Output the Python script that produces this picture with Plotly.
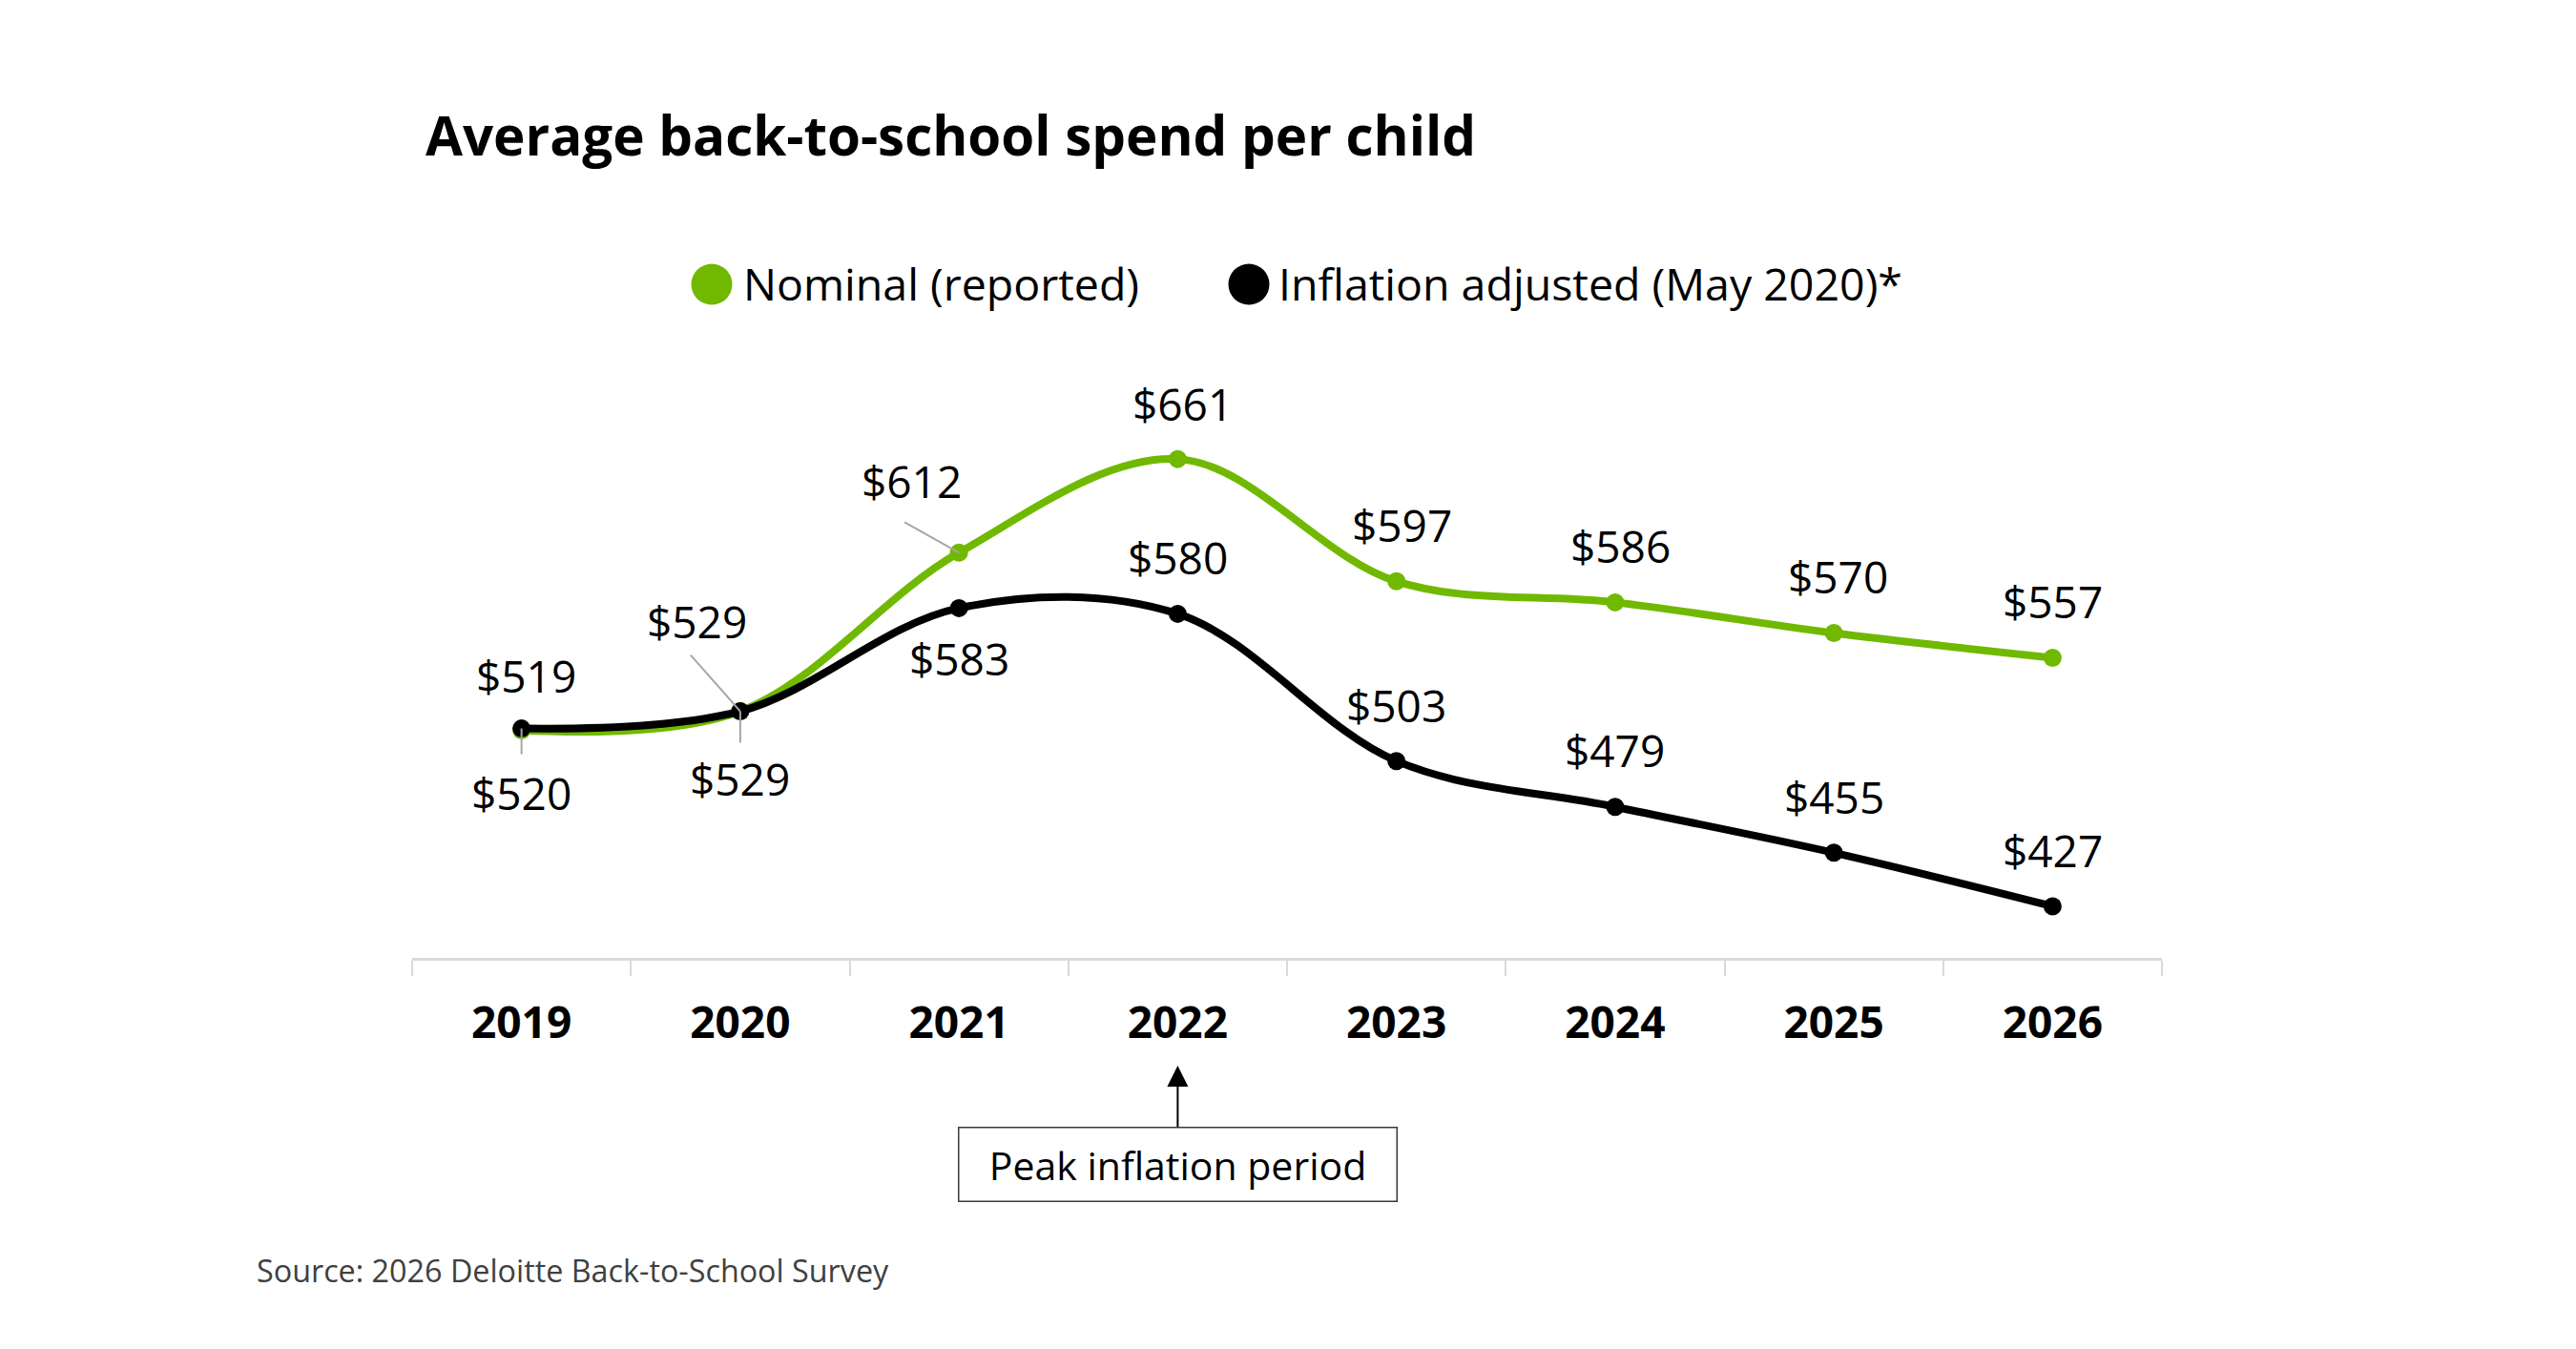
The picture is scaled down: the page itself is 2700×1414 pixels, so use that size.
import plotly.graph_objects as go

# ---------------- data ----------------
years = ["2019", "2020", "2021", "2022", "2023", "2024", "2025", "2026"]
nominal = [519, 529, 612, 661, 597, 586, 570, 557]
adjusted = [520, 529, 583, 580, 503, 479, 455, 427]
series_names = ["Nominal (reported)", "Inflation adjusted (May 2020)*"]
title_text = "Average back-to-school spend per child"
source_text = "Source: 2026 Deloitte Back-to-School Survey"
callout_text = "Peak inflation period"
callout_year = "2022"

# ---------------- style ----------------
GREEN = "#70b900"
BLACK = "#000000"
FONT = "Open Sans"
W, H = 2700, 1414
L, R, T, B = 432, 434, 403, 410
plot_w = W - L - R
plot_h = H - T - B


def pxp(x):
    return (x - L) / plot_w


def pyp(y):
    return (H - B - y) / plot_h


# label offsets (pixels, y up)
nom_dx = [5, -45, -50, 5, 6, 6, 4, 0]
nom_dy = [58, 95, 75, 58, 59, 59, 59, 59]
adj_dx = [0, 0, 0, 0, 0, 0, 0, 0]
adj_dy = [-67, -70, -53, 59, 59, 60, 59, 59]
# leader lines: (series, index, dx, dy_up)
leaders = [("nom", 1, -52, 59), ("nom", 2, -57, 32), ("adj", 0, 0, -27), ("adj", 1, 0, -33)]

fig = go.Figure()
for name, vals, col in [(series_names[0], nominal, GREEN), (series_names[1], adjusted, BLACK)]:
    fig.add_trace(go.Scatter(
        x=years, y=vals, name=name, mode="lines+markers",
        line=dict(color=col, width=8, shape="spline", smoothing=1),
        marker=dict(color=col, size=19),
        showlegend=False, hoverinfo="skip",
    ))

# category axis: annotations / shapes use category index positions
cat_pos = {yr: i for i, yr in enumerate(years)}

annotations = []
lab_font = dict(family=FONT, size=46, color="#000000")
for vals, dxs, dys in [(nominal, nom_dx, nom_dy), (adjusted, adj_dx, adj_dy)]:
    for i, (yr, v) in enumerate(zip(years, vals)):
        annotations.append(dict(
            x=cat_pos[yr], y=v, xref="x", yref="y", text=f"${v}", showarrow=False,
            xshift=dxs[i], yshift=dys[i], font=lab_font,
        ))

shapes = []
for ser, i, dx, dy in leaders:
    vals = nominal if ser == "nom" else adjusted
    shapes.append(dict(
        type="line", xref="x", yref="y", xsizemode="pixel", ysizemode="pixel",
        xanchor=cat_pos[years[i]], yanchor=vals[i], x0=0, x1=dx, y0=0, y1=dy,
        line=dict(color="#a6a6a6", width=2), layer="above",
    ))

# legend (custom, large dots)
leg_items = [(746, 780, GREEN, series_names[0]), (1309, 1341, BLACK, series_names[1])]
for cx, tx, col, name in leg_items:
    shapes.append(dict(
        type="circle", xref="paper", yref="paper", xsizemode="pixel", ysizemode="pixel",
        xanchor=pxp(cx), yanchor=pyp(298), x0=-21.5, x1=21.5, y0=-21.5, y1=21.5,
        fillcolor=col, line=dict(width=0),
    ))
    annotations.append(dict(
        x=pxp(tx - 3), y=pyp(297), xref="paper", yref="paper", xanchor="left", yanchor="middle",
        text=name, showarrow=False, font=dict(family=FONT, size=46.5, color="#000000"),
    ))

# callout
annotations.append(dict(
    x=cat_pos[callout_year], y=pyp(1117), xref="x", yref="paper", text=callout_text,
    showarrow=True, ax=0, ay=103, arrowhead=2, arrowsize=2.2, arrowwidth=2, arrowcolor="#000000",
    font=dict(family=FONT, size=41, color="#000000"),
    bordercolor="#3a3a3a", borderwidth=1.5, borderpad=3, width=452, height=70, bgcolor="#ffffff",
))

# source
annotations.append(dict(
    x=pxp(267), y=pyp(1331), xref="paper", yref="paper", xanchor="left", yanchor="middle",
    text=source_text, showarrow=False, font=dict(family=FONT, size=32.3, color="#404040"),
))

fig.update_layout(
    width=W, height=H,
    margin=dict(l=L, r=R, t=T, b=B),
    paper_bgcolor="white", plot_bgcolor="white",
    title=dict(
        text=title_text, xref="container", yref="container",
        x=446 / W, xanchor="left", y=1 - 143 / H, yanchor="middle",
        font=dict(family=FONT, size=56.5, color="#000000", weight="bold"),
    ),
    xaxis=dict(
        type="category", range=[-0.5, 7.5], showgrid=False, zeroline=False,
        showline=True, linecolor="#d9d9d9", linewidth=3,
        ticks="outside", tickson="boundaries", ticklen=16, tickwidth=2, tickcolor="#d9d9d9",
        tickfont=dict(family=FONT, size=46, color="#000000", weight="bold"),
        ticklabelstandoff=26,
    ),
    yaxis=dict(range=[400, 700], visible=False, showgrid=False, zeroline=False),
    annotations=annotations,
    shapes=shapes,
    showlegend=False,
)

fig.write_html("out.html")
